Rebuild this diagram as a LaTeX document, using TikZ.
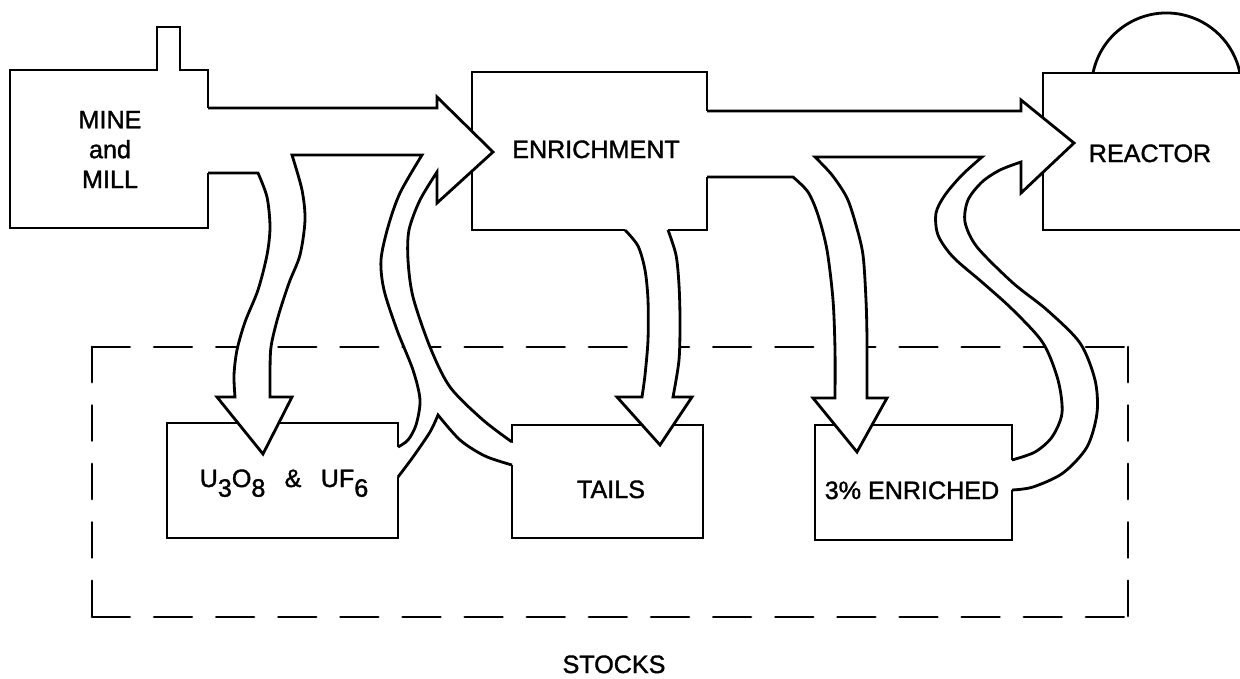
\documentclass[tikz,border=0pt]{standalone}
\usepackage{fontspec}
\setmainfont{Liberation Sans}
\newfontfamily\letterfont{Liberation Sans}[FakeBold=1.4]
\newcommand{\lowdigit}[1]{\raisebox{-5.5pt}{#1}}

\begin{document}
\begin{tikzpicture}[
    x=0.02cm, y=-0.02cm,
    outline/.style={line width=1.6pt, line join=miter, miter limit=5},
    box/.style={outline},
    flow/.style={outline},
    stockh/.style={line width=1.6pt, line cap=round, dash pattern=on 21.5pt off 13.86pt},
    stockv/.style={line width=1.6pt, line cap=round, dash pattern=on 20pt off 13.27pt},
    lbl/.style={font=\letterfont\fontsize{14.3}{17}\selectfont, inner sep=0pt}
]
\useasboundingbox (0,0) rectangle (1240,679);

% Stocks boundary
\draw[stockh] (92,347) -- (1128,347);
\draw[stockh] (92,617) -- (1128,617);
\draw[stockv] (92,347) -- (92,617);
\draw[stockv] (1128,347) -- (1128,617);

% Mine and mill
\draw[box] (208,108) -- (208,70) -- (180,70) -- (180,27) -- (157,27) -- (157,70) -- (10,70) -- (10,228) -- (208,228) -- (208,173);

% Enrichment plant
\draw[box] (707,111) -- (707,72) -- (472,72) -- (472,230) -- (625,230);
\draw[box] (668,230) -- (707,230) -- (707,177);

% Reactor with dome
\draw[box] (1240,73) -- (1043,73) -- (1043,230) -- (1240,230);
\draw[box] (1093,73) arc[start angle=168.5, end angle=11.5, radius=1.5cm];

% Stock boxes
\draw[box] (398,447) -- (398,423) -- (167,423) -- (167,538) -- (398,538) -- (398,477);
\draw[box] (512,443) -- (512,425) -- (703,425) -- (703,538) -- (512,538) -- (512,465);
\draw[box] (1012,460) -- (1012,425) -- (815,425) -- (815,540) -- (1012,540) -- (1012,490);

% Flow from the mine: feed to enrichment, branch to stock, return from stocks
\fill[white] (208,108) -- (437,108) -- (437,97) -- (493,152) -- (437,203) -- (437,172)
    -- plot[smooth] coordinates {(437,172) (420,200) (409,230) (408,260) (413,297) (430,347) (450,387) (483,420) (512,442)}
    -- (512,465)
    -- plot[smooth] coordinates {(512,465) (485,456) (460,440) (438,415)}
    -- plot[smooth] coordinates {(438,415) (430,432) (413,457) (398,477)}
    -- (398,447)
    -- plot[smooth] coordinates {(398,447) (408,440) (416,425) (420,400) (413,370) (397,330) (384,290) (381,260) (388,227) (400,193) (422,155)}
    -- (292,155)
    -- plot[smooth] coordinates {(292,155) (302,190) (305,220) (300,255) (289,283) (278,317) (271,347) (270,375) (270,397)}
    -- (292,397) -- (263,454) -- (217,397) -- (235,397)
    -- plot[smooth] coordinates {(235,397) (234,375) (237,350) (245,322) (258,290) (267,255) (270,227) (267,197) (258,173)}
    -- (208,173) -- cycle;
\draw[flow] (208,108) -- (437,108) -- (437,97) -- (493,152) -- (437,203) -- (437,172)
    -- plot[smooth] coordinates {(437,172) (420,200) (409,230) (408,260) (413,297) (430,347) (450,387) (483,420) (512,442)};
\draw[flow] plot[smooth] coordinates {(512,465) (485,456) (460,440) (438,415)}
    -- plot[smooth] coordinates {(438,415) (430,432) (413,457) (398,477)};
\draw[flow] plot[smooth] coordinates {(398,447) (408,440) (416,425) (420,400) (413,370) (397,330) (384,290) (381,260) (388,227) (400,193) (422,155)}
    -- (292,155)
    -- plot[smooth] coordinates {(292,155) (302,190) (305,220) (300,255) (289,283) (278,317) (271,347) (270,375) (270,397)}
    -- (292,397) -- (263,454) -- (217,397) -- (235,397)
    -- plot[smooth] coordinates {(235,397) (234,375) (237,350) (245,322) (258,290) (267,255) (270,227) (267,197) (258,173)}
    -- (208,173);

% Tails down to stock
\fill[white] (625,230)
    -- plot[smooth] coordinates {(625,230) (638,246) (645,270) (648,300) (648,340) (645,375) (642,397)}
    -- (617,397) -- (660,445) -- (692,397) -- (673,397)
    -- plot[smooth] coordinates {(673,397) (679,360) (680,320) (679,285) (676,255) (668,230)}
    -- cycle;
\draw[flow] plot[smooth] coordinates {(625,230) (638,246) (645,270) (648,300) (648,340) (645,375) (642,397)}
    -- (617,397) -- (660,445) -- (692,397) -- (673,397)
    -- plot[smooth] coordinates {(673,397) (679,360) (680,320) (679,285) (676,255) (668,230)};

% Enriched product to reactor, branch to stock and return
\fill[white] (707,111) -- (1021,111) -- (1021,100) -- (1074,143) -- (1021,193) -- (1021,162)
    -- plot[smooth] coordinates {(1021,162) (1000,170) (982,182) (968,200) (965,222) (977,247) (1013,283) (1047,310) (1080,343) (1095,380) (1097,413) (1087,447) (1063,473) (1033,487) (1012,490)}
    -- (1012,460)
    -- plot[smooth] coordinates {(1012,460) (1035,452) (1052,437) (1062,413) (1058,380) (1043,343) (1013,310) (983,283) (953,257) (938,235) (936,213) (945,195) (962,175) (982,157)}
    -- (815,157)
    -- plot[smooth] coordinates {(815,157) (832,175) (847,198) (856,225) (863,255) (866,300) (867,340) (867,398)}
    -- (887,398) -- (857,452) -- (813,398) -- (835,398)
    -- plot[smooth] coordinates {(835,398) (835,350) (833,300) (827,250) (818,215) (808,192) (793,177)}
    -- (707,177) -- cycle;
\draw[flow] (707,111) -- (1021,111) -- (1021,100) -- (1074,143) -- (1021,193) -- (1021,162)
    -- plot[smooth] coordinates {(1021,162) (1000,170) (982,182) (968,200) (965,222) (977,247) (1013,283) (1047,310) (1080,343) (1095,380) (1097,413) (1087,447) (1063,473) (1033,487) (1012,490)};
\draw[flow] plot[smooth] coordinates {(1012,460) (1035,452) (1052,437) (1062,413) (1058,380) (1043,343) (1013,310) (983,283) (953,257) (938,235) (936,213) (945,195) (962,175) (982,157)}
    -- (815,157)
    -- plot[smooth] coordinates {(815,157) (832,175) (847,198) (856,225) (863,255) (866,300) (867,340) (867,398)}
    -- (887,398) -- (857,452) -- (813,398) -- (835,398)
    -- plot[smooth] coordinates {(835,398) (835,350) (833,300) (827,250) (818,215) (808,192) (793,177)}
    -- (707,177);

% Labels
\node[lbl, align=center] (mine) at (110,149.5) {MINE\\and\\MILL};
\node[lbl, anchor=base] (enrich) at (596,158) {ENRICHMENT};
\node[lbl, anchor=base] (reactor) at (1150,162) {REACTOR};
\node[lbl, anchor=base] (oxide) at (284,487) {U\lowdigit{3}O\lowdigit{8}\hspace{11pt}\&\hspace{11pt}UF\lowdigit{6}};
\node[lbl, anchor=base] (tails) at (611,498) {TAILS};
\node[lbl, anchor=base] (enriched) at (912,499) {3\% ENRICHED};
\node[lbl, anchor=base] (stocks) at (614,673) {STOCKS};

\end{tikzpicture}
\end{document}
